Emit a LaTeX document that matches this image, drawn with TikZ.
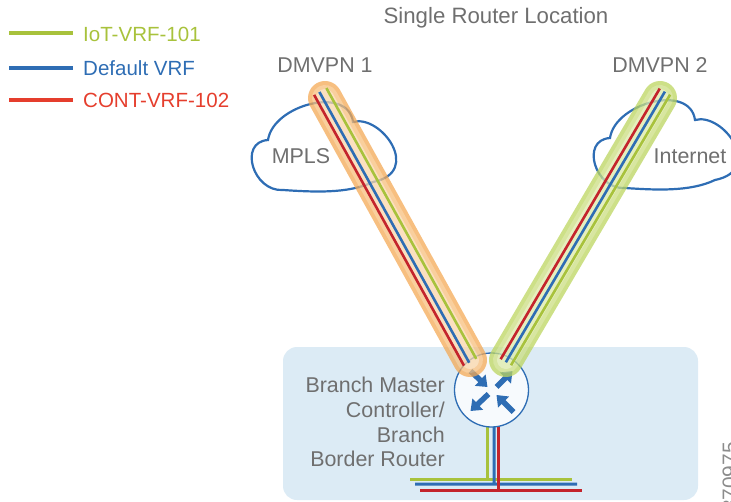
\documentclass[tikz,border=0pt]{standalone}
\usepackage{fontspec}
\setmainfont{Liberation Sans}
\usepackage{xcolor}
\usetikzlibrary{arrows.meta,positioning,calc}

\definecolor{iotgreen}{HTML}{A8C23C}
\definecolor{vrfblue}{HTML}{2E6DB4}
\definecolor{contred}{HTML}{E53E2D}
\definecolor{linered}{HTML}{C4242C}
\definecolor{labelgray}{HTML}{6F6F6F}
\definecolor{figgray}{HTML}{8C8C8C}
\definecolor{boxblue}{HTML}{DCEBF5}
\definecolor{routerfill}{HTML}{F7FAFD}
\definecolor{tubeorange}{HTML}{F4A955}
\definecolor{tubeorangemd}{HTML}{F7BF7C}
\definecolor{tubeorangelt}{HTML}{FAD6AA}
\definecolor{tubegreen}{HTML}{BCD55F}
\definecolor{tubegreenmd}{HTML}{CBDE81}
\definecolor{tubegreenlt}{HTML}{DDEAA8}

\tikzset{
	cloudshape/.pic={
		\draw[cloudline] (-55,-7) .. controls (-50,-42) and (25,-62) .. (30,-25)
			.. controls (58,-33) and (100,25) .. (50,35)
			.. controls (25,47) and (-10,45) .. (-40,43)
			.. controls (-70,45) and (-85,-5) .. cycle;
	}
}

\begin{document}
\begin{tikzpicture}[x=1bp, y=-1bp,
	lbl/.style={inner sep=0pt, text=labelgray, font=\fontsize{21.5}{25}\selectfont},
	legtext/.style={inner sep=0pt, anchor=base west, font=\fontsize{20.6}{24}\selectfont},
	vrfline/.style={line width=2.6bp, shorten <=-8bp, shorten >=-2bp},
	legline/.style={line width=3.2bp},
	lanline/.style={line width=3bp},
	cloudline/.style={draw=vrfblue, fill=white, line width=2.2bp},
	sitebox/.style={fill=boxblue, rounded corners=14bp, minimum width=415bp, minimum height=153bp, inner sep=0pt},
	router/.style={circle, draw=vrfblue, fill=routerfill, line width=1.3bp, minimum size=74bp, inner sep=0pt},
	rarrow/.style={draw=vrfblue, line width=5.5bp, -{Triangle[length=10bp, width=15bp]}},
	tube/.style={line width=34bp, line cap=round},
	tubemid/.style={line width=26bp, line cap=round},
	tubecore/.style={line width=18bp, line cap=round}]
	\useasboundingbox (0,0) rectangle (731,502);
	\clip (0,0) rectangle (731,502);
	% legend
	\node[legtext, text=iotgreen] (legiot) at (83,41.5) {IoT-VRF-101};
	\node[legtext, text=vrfblue] (legdef) at (83,76) {Default VRF};
	\node[legtext, text=contred] (legcont) at (83,107.5) {CONT-VRF-102};
	\draw[legline, iotgreen] ($(legiot.base west)+(-74,-8.5)$) -- ++(64,0);
	\draw[legline, vrfblue] ($(legdef.base west)+(-74,-8)$) -- ++(64,0);
	\draw[legline, contred] ($(legcont.base west)+(-74,-7.5)$) -- ++(64,0);
	% site
	\node[sitebox] (site) at (490.5,423.5) {};
	\node[lbl, anchor=base, font=\fontsize{22.3}{25}\selectfont] (title) at (496,23.5) {Single Router Location};
	% clouds
	\pic at (323,147) {cloudshape};
	\pic at (665,145) {cloudshape};
	\node[lbl, anchor=base] (mpls) at (301,164) {MPLS};
	\node[lbl, anchor=base] (inet) at (690,164) {Internet};
	% router and lan
	\coordinate (rtrc) at (491.5,390);
	\draw[lanline, iotgreen] (410,479) -- (572,479) (487,479) -- ($(rtrc)+(-4.5,0)$);
	\draw[lanline, vrfblue] (415,484) -- (577,484) (494,484) -- ($(rtrc)+(2.5,0)$);
	\draw[lanline, linered] (420,490) -- (582,490) (498.5,490) -- ($(rtrc)+(7,0)$);
	\node[router] (rtr) at (rtrc) {};
	\foreach \ax/\ay/\bx/\by in {-21/-19/-4/-3, 5/-3/21/-19, -3/4/-21/21, 22/22/5/5}
		\draw[rarrow] ($(rtr)+(\ax,\ay)$) -- ($(rtr)+(\bx,\by)$);
	\node[lbl, anchor=north east, align=right] (brlabel) at (445,376.5)
		{Branch Master\\Controller/\\Branch\\Border Router};
	% tunnels
	\coordinate (t1a) at (325,98);
	\coordinate (t1b) at (470,360);
	\coordinate (t2a) at (660,98);
	\coordinate (t2b) at (506,360);
	\begin{scope}[transparency group, opacity=.75]
		\draw[tube, tubeorange] (t1a) -- (t1b);
		\draw[tubemid, tubeorangemd] (t1a) -- (t1b);
		\draw[tubecore, tubeorangelt] (t1a) -- (t1b);
	\end{scope}
	\begin{scope}[transparency group, opacity=.75]
		\draw[tube, tubegreen] (t2a) -- (t2b);
		\draw[tubemid, tubegreenmd] (t2a) -- (t2b);
		\draw[tubecore, tubegreenlt] (t2a) -- (t2b);
	\end{scope}
	\foreach \off/\col in {-8bp/linered, -2bp/vrfblue, 6bp/iotgreen}
		\draw[vrfline, \col] ($(t1a)!\off!90:(t1b)$) -- ($(t1b)!\off!-90:(t1a)$);
	\foreach \off/\col in {-5bp/linered, 1bp/vrfblue, 7bp/iotgreen}
		\draw[vrfline, \col] ($(t2a)!\off!90:(t2b)$) -- ($(t2b)!\off!-90:(t2a)$);
	\node[lbl, above=25bp of t1a] (dmvpn1) {DMVPN 1};
	\node[lbl, above=25bp of t2a] (dmvpn2) {DMVPN 2};
	% figure id
	\node[inner sep=0pt, rotate=90, anchor=base, text=figgray, font=\fontsize{21}{21}\selectfont] (figid) at (737,477) {370975};
\end{tikzpicture}
\end{document}
